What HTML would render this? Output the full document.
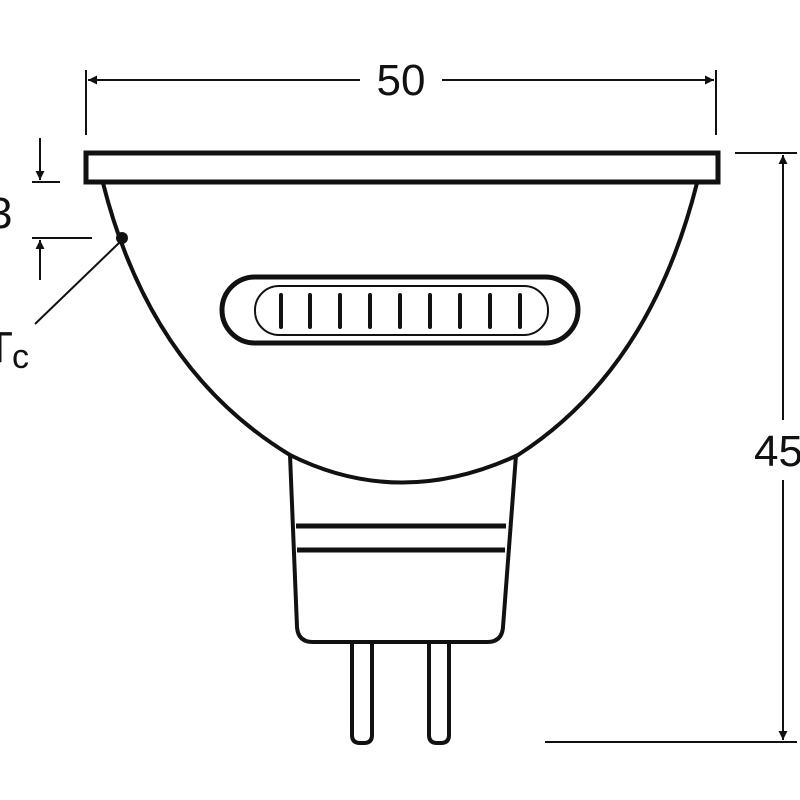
<!DOCTYPE html>
<html><head><style>body{margin:0;background:#fff}svg{display:block}</style></head><body>
<svg width="800" height="800" viewBox="0 0 800 800" xmlns="http://www.w3.org/2000/svg" font-family="Liberation Sans, sans-serif">
<defs><marker id="a" viewBox="0 0 10 10" refX="10" refY="5" markerWidth="14" markerHeight="9" orient="auto-start-reverse" markerUnits="userSpaceOnUse"><path d="M0,0L10,5L0,10z" fill="#111"/></marker></defs>
<g stroke="#111" fill="none">
<!-- dimension 50 -->
<line x1="86" y1="70" x2="86" y2="135" stroke-width="2"/>
<line x1="716" y1="70" x2="716" y2="135" stroke-width="2"/>
<line x1="88" y1="80" x2="360" y2="80" stroke-width="2" marker-start="url(#a)"/>
<line x1="442" y1="80" x2="714" y2="80" stroke-width="2" marker-end="url(#a)"/>
<!-- dimension 45 -->
<line x1="735" y1="153" x2="797" y2="153" stroke-width="2"/>
<line x1="545" y1="742" x2="797" y2="742" stroke-width="2"/>
<line x1="783" y1="155" x2="783" y2="420" stroke-width="2" marker-start="url(#a)"/>
<line x1="783" y1="480" x2="783" y2="740" stroke-width="2" marker-end="url(#a)"/>
<!-- left 3 -->
<line x1="32" y1="182" x2="60" y2="182" stroke-width="2"/>
<line x1="32" y1="238" x2="92" y2="238" stroke-width="2"/>
<line x1="40" y1="138" x2="40" y2="180" stroke-width="2" marker-end="url(#a)"/>
<line x1="40" y1="280" x2="40" y2="240" stroke-width="2" marker-end="url(#a)"/>
<line x1="35" y1="324" x2="120" y2="242" stroke-width="2"/>
<!-- rim -->
<rect x="86" y="153" width="632" height="29" stroke-width="5"/>
<!-- bowl -->
<path d="M103,183 Q150,370 290,455 Q400,510 518,455 Q650,370 697,183" stroke-width="4"/>
<!-- base -->
<path d="M290,455 L297,627 Q298,642 313,642 L487,642 Q502,642 503,627 L516,455" stroke-width="4"/>
<line x1="296" y1="526" x2="506" y2="526" stroke-width="5"/>
<line x1="297" y1="550" x2="505" y2="550" stroke-width="5"/>
<path d="M352,642 L352,735 Q352,743 360,743 L364,743 Q372,743 372,735 L372,642" stroke-width="4"/>
<path d="M429,642 L429,735 Q429,743 437,743 L441,743 Q449,743 449,735 L449,642" stroke-width="4"/>
<!-- oval -->
<rect x="222" y="277" width="356" height="66" rx="33" stroke-width="5"/>
<rect x="255" y="286" width="293" height="49" rx="24" stroke-width="2"/>
<g stroke-width="4" stroke-linecap="round">
<line x1="281" y1="295" x2="281" y2="327"/><line x1="310" y1="295" x2="310" y2="327"/><line x1="340" y1="295" x2="340" y2="327"/><line x1="370" y1="295" x2="370" y2="327"/><line x1="400" y1="295" x2="400" y2="327"/><line x1="430" y1="295" x2="430" y2="327"/><line x1="460" y1="295" x2="460" y2="327"/><line x1="490" y1="295" x2="490" y2="327"/><line x1="520" y1="295" x2="520" y2="327"/>
</g>
</g>
<circle cx="122" cy="238" r="6" fill="#111"/>
<g fill="#111" font-size="44">
<text x="401" y="95" text-anchor="middle">50</text>
<text x="754" y="466">45</text>
<text x="-12" y="228">3</text>
<text x="-14" y="362">T</text>
<text x="12" y="368" font-size="34">c</text>
</g>
</svg>
</body></html>
